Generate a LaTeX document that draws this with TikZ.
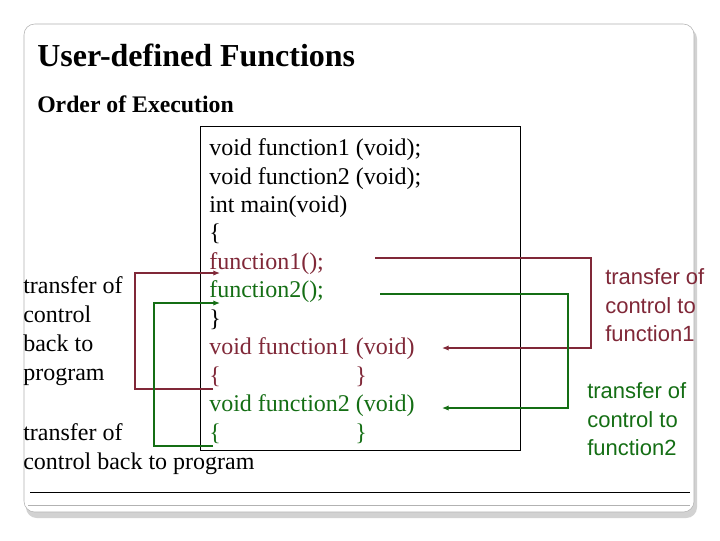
\documentclass[tikz,border=0pt]{standalone}
\usepackage{fontspec}
\setmainfont{Liberation Serif}
\newfontfamily\arialf{Liberation Sans}
\usetikzlibrary{arrows.meta}
\begin{document}
\begin{tikzpicture}[x=0.75pt,y=-0.75pt,
 code/.style={anchor=base west,inner sep=0,font=\fontsize{18}{21.5}\selectfont},
 lab/.style={anchor=base west,inner sep=0,font=\fontsize{18}{21.5}\selectfont},
 rl/.style={anchor=base west,inner sep=0,font=\arialf\fontsize{16.5}{21.5}\selectfont},
 conn/.style={line width=0.9pt},
 tip/.style={-{Latex[length=5pt,width=4pt]}}]
\definecolor{dred}{RGB}{128,40,56}
\definecolor{dgreen}{RGB}{20,110,20}
\useasboundingbox (0,0) rectangle (720,540);
\fill[white] (0,0) rectangle (720,540);
\fill[gray!35,rounded corners=8] (26,28) rectangle (697,518);
\draw[gray!60,fill=white,rounded corners=8] (24,24) rectangle (694,512);
\draw[gray!60] (28,505) -- (690,505);
\node[anchor=west,inner sep=0,font=\bfseries\fontsize{24}{26}\selectfont] (t) at (37,55) {User-defined Functions};
\node[anchor=west,inner sep=0,font=\bfseries\fontsize{17.8}{19}\selectfont] (o) at (37,104) {Order of Execution};
\node[draw,line width=0.7pt,minimum width=240,minimum height=243,inner sep=0,anchor=north west] (box) at (200,126) {};
\node[code] (c1) at (209,155) {void function1 (void);};
\node[code] (c2) at (209,184) {void function2 (void);};
\node[code] (c3) at (209,212) {int main(void)};
\node[code] (c4) at (209,240) {\{};
\node[code,dred] (f1) at (209,269) {function1();};
\node[code,dgreen] (f2) at (209,297) {function2();};
\node[code] (c7) at (209,326) {\}};
\node[code,dred] (d1) at (209,354) {void function1 (void)};
\node[code,dred] (b1) at (209,383) {\{};
\node[code,dred] (e1) at (355,383) {\}};
\node[code,dgreen] (d2) at (209,411) {void function2 (void)};
\node[code,dgreen] (b2) at (209,440) {\{};
\node[code,dgreen] (e2) at (355,440) {\}};
\node[lab] (l1a) at (23,293) {transfer of};
\node[lab] (l1b) at (23,322) {control};
\node[lab] (l1c) at (23,351) {back to};
\node[lab] (l1d) at (23,380) {program};
\node[lab] (l2) at (23,440) {transfer of};
\node[lab] (l3) at (23,469) {control back to program};
\node[rl,dred] (r1a) at (605,284) {transfer of};
\node[rl,dred] (r1b) at (605,313) {control to};
\node[rl,dred] (r1c) at (605,341) {function1};
\node[rl,dgreen] (r2a) at (587,398) {transfer of};
\node[rl,dgreen] (r2b) at (587,427) {control to};
\node[rl,dgreen] (r2c) at (587,455) {function2};
\coordinate (a1) at (375,258); \coordinate (a2) at (591,258); \coordinate (a3) at (591,348); \coordinate (a4) at (442,348);
\draw[conn,dred,tip] (a1) -- (a2) -- (a3) -- (a4);
\coordinate (g1) at (380,294); \coordinate (g2) at (568,294); \coordinate (g3) at (568,408); \coordinate (g4) at (442,408);
\draw[conn,dgreen,tip] (g1) -- (g2) -- (g3) -- (g4);
\coordinate (p1) at (213,389); \coordinate (p2) at (135,389); \coordinate (p3) at (135,273); \coordinate (p4) at (220,273);
\draw[conn,dred,tip] (p1) -- (p2) -- (p3) -- (p4);
\coordinate (q1) at (213,446); \coordinate (q2) at (154,446); \coordinate (q3) at (154,303); \coordinate (q4) at (220,303);
\draw[conn,dgreen,tip] (q1) -- (q2) -- (q3) -- (q4);
\draw[line width=0.7pt] (30,492) -- (690,492);
\end{tikzpicture}
\end{document}
